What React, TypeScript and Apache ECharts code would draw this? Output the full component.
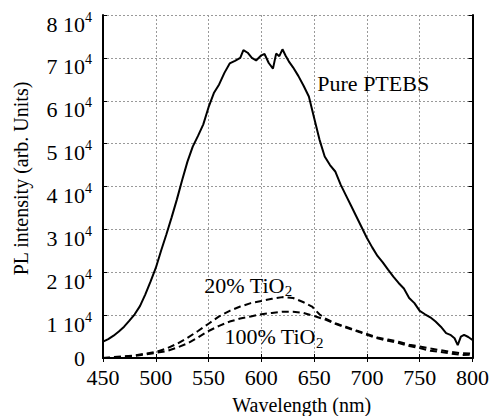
import React, { useEffect, useRef } from "react";
import * as echarts from "echarts";

const FONT = "'Liberation Serif', 'Times New Roman', serif";

const xTicks = [450, 500, 550, 600, 650, 700, 750, 800];
const yTicks = [0, 10000, 20000, 30000, 40000, 50000, 60000, 70000, 80000];

const pureWl = [450, 455, 460, 465, 470, 475, 480, 485, 490, 495, 500, 505, 510, 515, 520, 525, 530, 535, 540, 545, 550, 555, 560, 565, 570, 575, 580, 583, 587, 591, 595, 600, 603, 607, 611, 614, 617, 620, 623, 626, 630, 635, 640, 645, 650, 655, 660, 665, 670, 675, 680, 685, 690, 695, 700, 705, 710, 715, 720, 725, 730, 735, 740, 745, 750, 755, 760, 765, 770, 775, 779, 783, 786, 789, 792, 796, 800];
const pureVal = [3800, 4400, 5200, 6200, 7300, 8700, 10200, 12100, 14800, 17800, 21000, 25000, 28800, 32800, 37000, 41500, 45800, 49300, 51800, 54500, 58500, 61800, 63800, 66500, 68700, 69300, 70000, 71800, 71200, 70000, 69400, 70600, 70900, 68800, 67500, 71000, 70400, 72000, 70500, 69200, 67800, 65800, 63500, 61000, 56000, 51000, 47000, 45000, 43500, 40500, 38000, 35500, 33000, 30500, 28000, 25800, 23800, 22300, 20600, 19000, 17500, 16200, 14000, 12800, 11000, 10200, 9500, 8500, 7300, 5800, 5400, 4600, 3000, 5000, 5400, 4900, 4200];

const tio20Wl = [450, 460, 470, 480, 490, 500, 510, 520, 530, 540, 550, 560, 570, 580, 590, 600, 610, 620, 630, 640, 648, 655, 660, 670, 680, 690, 700, 710, 720, 730, 740, 750, 760, 770, 780, 790, 800];
const tio20Val = [0, 200, 400, 600, 1000, 1400, 2200, 3300, 4700, 6300, 8000, 9700, 11000, 12000, 12800, 13300, 13800, 14200, 14000, 13000, 12000, 10200, 9300, 8100, 7300, 6400, 5600, 4800, 4300, 3800, 3100, 2700, 2200, 1800, 1400, 1100, 1000];

const tio100Wl = [450, 460, 470, 480, 490, 500, 510, 520, 530, 540, 550, 560, 570, 580, 590, 600, 610, 620, 630, 640, 650, 660, 670, 680, 690, 700, 710, 720, 730, 740, 750, 760, 770, 780, 790, 800];
const tio100Val = [0, 100, 300, 500, 800, 1200, 1600, 2400, 3400, 4800, 6300, 7500, 8500, 9200, 9700, 10200, 10500, 10800, 10800, 10500, 9800, 9000, 8000, 7100, 6300, 5400, 4600, 4000, 3500, 2800, 2300, 1700, 1400, 1000, 700, 800];

const pair = (xs: number[], ys: number[]) => xs.map((x, i) => [x, ys[i]]);

export default function App() {
  const ref = useRef<HTMLDivElement>(null);
  useEffect(() => {
    if (!ref.current) return;
    const chart = echarts.init(ref.current, null, { renderer: "svg" });
    const grid = { left: 103, right: 17, top: 15, bottom: 58 };
    const splitLine = { show: true, lineStyle: { color: "#999", width: 1, type: [2, 2] as any } };
    const axisLine = { show: true, lineStyle: { color: "#000", width: 2 } };
    chart.setOption({
      animation: false,
      backgroundColor: "#fff",
      grid,
      xAxis: [
        {
          type: "value", min: xTicks[0], max: xTicks[xTicks.length - 1], interval: 50, position: "bottom",
          axisLine, splitLine,
          axisTick: { show: true, inside: true, length: 4, lineStyle: { color: "#000" } },
          axisLabel: { color: "#000", fontFamily: FONT, fontSize: 22, margin: 8 },
        },
        {
          type: "value", min: xTicks[0], max: xTicks[xTicks.length - 1], interval: 50, position: "top",
          axisLine, splitLine: { show: false },
          axisTick: { show: true, inside: true, length: 4, lineStyle: { color: "#000" } },
          axisLabel: { show: false },
        },
      ],
      yAxis: [
        {
          type: "value", min: yTicks[0], max: yTicks[yTicks.length - 1], interval: 10000, position: "left",
          axisLine, splitLine,
          axisTick: { show: true, inside: true, length: 4, lineStyle: { color: "#000" } },
          axisLabel: {
            color: "#000", margin: 11, padding: [18, 0, 0, 0],
            formatter: (v: number) => (v === 0 ? "" : `{b|${v / 10000} 10}{s|4}`),
            rich: {
              b: { fontFamily: FONT, fontSize: 22, lineHeight: 22, color: "#000" },
              s: { fontFamily: FONT, fontSize: 14, lineHeight: 14, padding: [0, 0, 14, 0], color: "#000" },
            },
          },
        },
        {
          type: "value", min: yTicks[0], max: yTicks[yTicks.length - 1], interval: 10000, position: "left",
          axisLine: { show: false }, splitLine: { show: false }, axisTick: { show: false },
          axisLabel: {
            color: "#000", fontFamily: FONT, fontSize: 22, margin: 18, lineHeight: 18,
            formatter: (v: number) => (v === 0 ? "0" : ""),
          },
        },
        {
          type: "value", min: yTicks[0], max: yTicks[yTicks.length - 1], interval: 10000, position: "right",
          axisLine, splitLine: { show: false },
          axisTick: { show: true, inside: true, length: 4, lineStyle: { color: "#000" } },
          axisLabel: { show: false },
        },
      ],
      series: [
        {
          name: "Pure PTEBS", type: "line", data: pair(pureWl, pureVal), showSymbol: false,
          lineStyle: { color: "#000", width: 2 }, z: 5,
        },
        {
          name: "20% TiO2", type: "line", data: pair(tio20Wl, tio20Val), showSymbol: false,
          lineStyle: { color: "#000", width: 2, type: [7, 4] }, z: 5,
        },
        {
          name: "100% TiO2", type: "line", data: pair(tio100Wl, tio100Val), showSymbol: false,
          lineStyle: { color: "#000", width: 2, type: [7, 4] }, z: 5,
        },
      ],
    });
    const at = (x: number, y: number) => chart.convertToPixel({ xAxisIndex: 0, yAxisIndex: 0 }, [x, y]) as number[];
    const p1 = at(653, 64100);
    const p2 = at(546, 17000);
    const p3 = at(565, 5000);
    const plot = at(450, 0);
    const plotTop = at(800, 80000);
    const richSub = {
      a: { fontFamily: FONT, fontSize: 22, lineHeight: 26, color: "#000" },
      sub: { fontFamily: FONT, fontSize: 15, lineHeight: 15, padding: [12, 0, 0, 0], color: "#000" },
    };
    chart.setOption({
      graphic: [
        { type: "text", x: p1[0], y: p1[1], style: { text: "Pure PTEBS", font: `22px ${FONT}`, fill: "#000", textVerticalAlign: "middle" } as any, z: 10 },
        { type: "text", x: p2[0], y: p2[1], style: { text: "{a|20% TiO}{sub|2}", rich: richSub, textVerticalAlign: "middle" } as any, z: 10 },
        { type: "text", x: p3[0], y: p3[1], style: { text: "{a|100% TiO}{sub|2}", rich: richSub, textVerticalAlign: "middle" } as any, z: 10 },
        { type: "text", x: (plot[0] + plotTop[0]) / 2 + 14, y: 405, style: { text: "Wavelength (nm)", font: `20px ${FONT}`, fill: "#000", textAlign: "center", textVerticalAlign: "middle" } as any },
        { type: "text", x: 21, y: (plot[1] + plotTop[1]) / 2 - 8, rotation: Math.PI / 2, style: { text: "PL intensity (arb. Units)", font: `20px ${FONT}`, fill: "#000", textAlign: "center", textVerticalAlign: "middle" } as any },
      ],
    });
    return () => chart.dispose();
  }, []);
  return <div ref={ref} style={{ width: 492, height: 416, position: "absolute", left: 0, top: 0 }} />;
}
